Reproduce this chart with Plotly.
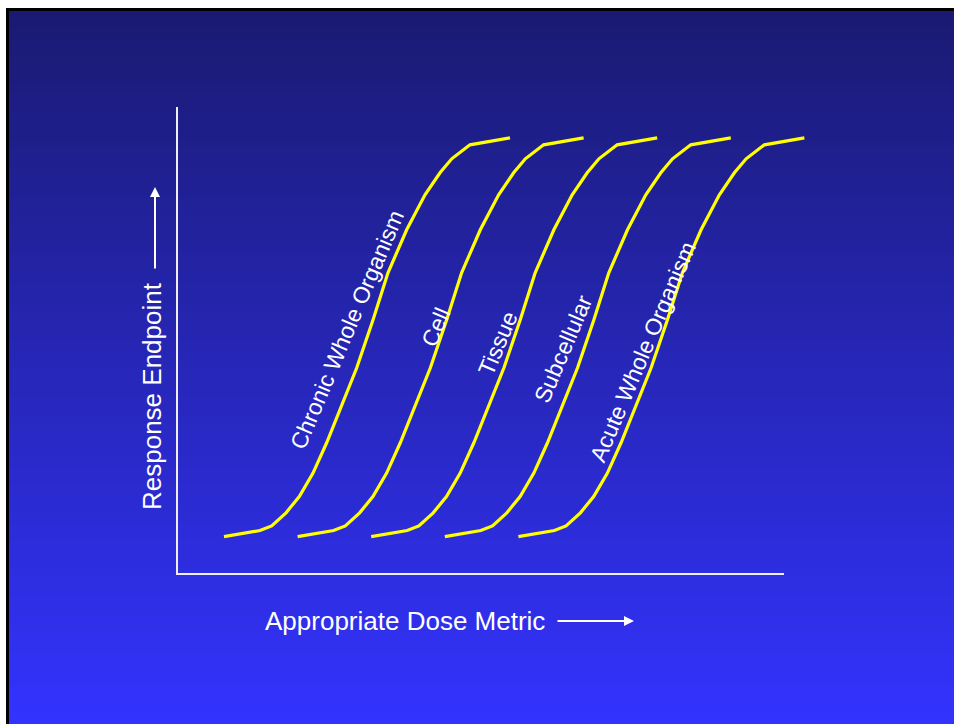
import plotly.graph_objects as go

# ---------------- data ----------------
series_names = ["Chronic Whole Organism", "Cell", "Tissue", "Subcellular", "Acute Whole Organism"]

dose_chronic = [0.774, 1.367, 1.560, 1.796, 2.015, 2.241, 2.466, 2.768, 2.960, 3.229,
                3.476, 3.784, 4.086, 4.333, 4.526, 4.827, 5.486]
dose_cell = [1.987, 2.580, 2.773, 3.009, 3.228, 3.454, 3.679, 3.981, 4.173, 4.442,
             4.689, 4.997, 5.299, 5.546, 5.739, 6.040, 6.699]
dose_tissue = [3.199, 3.792, 3.985, 4.221, 4.440, 4.666, 4.891, 5.193, 5.385, 5.654,
               5.901, 6.209, 6.511, 6.758, 6.951, 7.252, 7.911]
dose_subcellular = [4.412, 5.005, 5.198, 5.434, 5.653, 5.879, 6.104, 6.406, 6.598, 6.867,
                    7.114, 7.422, 7.724, 7.971, 8.164, 8.465, 9.124]
dose_acute = [5.624, 6.217, 6.410, 6.646, 6.865, 7.091, 7.316, 7.618, 7.810, 8.079,
              8.326, 8.634, 8.936, 9.183, 9.376, 9.677, 10.336]

response = [0.080, 0.093, 0.103, 0.131, 0.166, 0.216, 0.281, 0.380, 0.441, 0.544,
            0.645, 0.737, 0.812, 0.859, 0.889, 0.919, 0.934]

x_title = "Appropriate Dose Metric"
y_title = "Response Endpoint"

# ---------------- layout / style ----------------
W_FIG, H_FIG = 954, 724
M_L, M_R, M_T, M_B = 150, 80, 60, 124
PW = W_FIG - M_L - M_R
PH = H_FIG - M_T - M_B
X_RANGE = [-0.4448, 11.483]
Y_RANGE = [-0.0557, 1.1006]
FONT = "Arial, Liberation Sans, Helvetica, sans-serif"
YELLOW = "#ffff00"
AXIS_COLOR = "rgb(238,238,255)"

# label anchor positions (data coords) and rotation
label_pos = [(2.801, 0.522), (4.267, 0.529), (5.288, 0.495), (6.359, 0.482), (7.677, 0.475)]
label_angle = -67


def px_to_paper(px, py):
    return (px - M_L) / PW, (M_T + PH - py) / PH


fig = go.Figure()

all_doses = [dose_chronic, dose_cell, dose_tissue, dose_subcellular, dose_acute]
for name, d in zip(series_names, all_doses):
    fig.add_trace(go.Scatter(
        x=d, y=response, mode="lines", name=name,
        line=dict(color=YELLOW, width=3.2, shape="linear"),
        hoverinfo="skip", showlegend=False,
    ))

shapes = []
# white page, black frame, gradient slide
x_right, _ = px_to_paper(W_FIG + 5, 0)
fx0, fy0 = px_to_paper(6, 8)
_, fy_bot = px_to_paper(0, H_FIG + 5)
shapes.append(dict(type="rect", xref="paper", yref="paper", x0=fx0, x1=x_right,
                   y0=fy_bot, y1=fy0, fillcolor="black", line=dict(width=0), layer="below"))
gx0, _ = px_to_paper(9, 0)
top_c = (26, 26, 114)
bot_c = (51, 51, 255)
g_top, g_bot = 11, H_FIG
step = 4
y = g_top
while y < g_bot + 5:
    t = min(1.0, max(0.0, (y + step / 2 - g_top) / (g_bot - g_top)))
    c = tuple(round(top_c[i] + (bot_c[i] - top_c[i]) * t) for i in range(3))
    _, ya = px_to_paper(0, y)
    _, yb = px_to_paper(0, y + step + 0.6)
    shapes.append(dict(type="rect", xref="paper", yref="paper", x0=gx0, x1=x_right,
                       y0=yb, y1=ya, fillcolor="rgb(%d,%d,%d)" % c,
                       line=dict(width=0), layer="below"))
    y += step

# axes as an L-shaped path in data coordinates
shapes.append(dict(type="path", xref="x", yref="y", path="M 0,1 L 0,0 L 10,0",
                   line=dict(color=AXIS_COLOR, width=2), layer="above"))

annotations = []
for name, (lx, ly) in zip(series_names, label_pos):
    annotations.append(dict(x=lx, y=ly, xref="x", yref="y", text=name, showarrow=False,
                            textangle=label_angle, xanchor="center", yanchor="middle",
                            font=dict(family=FONT, size=23, color="white")))

# axis titles
tx, ty = px_to_paper(405, 621)
annotations.append(dict(x=tx, y=ty, xref="paper", yref="paper", text=x_title, showarrow=False,
                        xanchor="center", yanchor="middle",
                        font=dict(family=FONT, size=26, color="white")))
tx, ty = px_to_paper(152, 396)
annotations.append(dict(x=tx, y=ty, xref="paper", yref="paper", text=y_title, showarrow=False,
                        textangle=-90, xanchor="center", yanchor="middle",
                        font=dict(family=FONT, size=26, color="white")))
# arrows
hx, hy = px_to_paper(634, 621)
annotations.append(dict(x=hx, y=hy, xref="paper", yref="paper", text="", showarrow=True,
                        ax=-78, ay=0, arrowhead=2, arrowsize=1, arrowwidth=2,
                        arrowcolor="white", standoff=0, startstandoff=0))
hx, hy = px_to_paper(155, 187)
annotations.append(dict(x=hx, y=hy, xref="paper", yref="paper", text="", showarrow=True,
                        ax=0, ay=83, arrowhead=2, arrowsize=1, arrowwidth=2,
                        arrowcolor="white", standoff=0, startstandoff=0))

fig.update_layout(
    width=W_FIG, height=H_FIG,
    margin=dict(l=M_L, r=M_R, t=M_T, b=M_B, pad=0),
    paper_bgcolor="white", plot_bgcolor="rgba(0,0,0,0)",
    xaxis=dict(range=X_RANGE, visible=False, fixedrange=True),
    yaxis=dict(range=Y_RANGE, visible=False, fixedrange=True),
    shapes=shapes, annotations=annotations, showlegend=False,
    font=dict(family=FONT),
)

fig.write_html(
    "out.html",
    config={"displayModeBar": False},
    post_script="document.body.style.margin='0';document.body.style.overflow='hidden';",
)
